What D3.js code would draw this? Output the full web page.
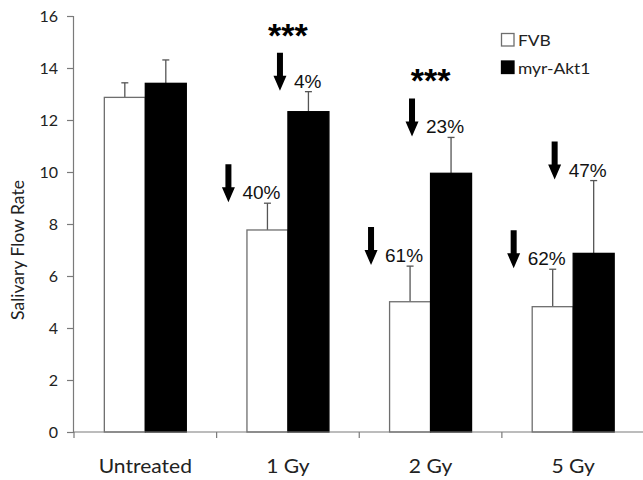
<!DOCTYPE html>
<html>
<head>
<meta charset="utf-8">
<script src="https://cdn.jsdelivr.net/npm/d3@7"></script>
<style>
  html, body { margin: 0; padding: 0; background: #fff; }
  svg { display: block; }
</style>
</head>
<body>
<svg id="chart" width="643" height="480"></svg>
<script>
const categories = ["Untreated", "1 Gy", "2 Gy", "5 Gy"];
const seriesNames = ["FVB", "myr-Akt1"];
const fvbValues = [12.87, 7.77, 5.01, 4.82];
const fvbErrors = [0.56, 1.03, 1.37, 1.44];
const aktValues = [13.41, 12.32, 9.95, 6.87];
const aktErrors = [0.90, 0.77, 1.38, 2.80];
const fvbDrops = [null, "40%", "61%", "62%"];
const aktDrops = [null, "4%", "23%", "47%"];
const significance = [null, "***", "***", null];
const yTicks = [0, 2, 4, 6, 8, 10, 12, 14, 16];
const yTitle = "Salivary Flow Rate";

const svg = d3.select("#chart");
const axisColor = "#7a7a7a";
const textColor = "#222";
const labelFont = "Lato, 'Open Sans', sans-serif";
const annFont = "'Liberation Sans', Arial, sans-serif";

const x0 = d3.scaleBand().domain(categories).range([74, 644.5]);
const x1 = d3.scaleBand().domain(seriesNames).range([0, x0.bandwidth()])
  .paddingInner(0).paddingOuter(0.74);
const y = d3.scaleLinear().domain([0, 16]).range([432, 16]);

const series = [
  { name: "FVB", values: fvbValues, errors: fvbErrors, drops: fvbDrops, fill: "#fff", stroke: "#6e6e6e" },
  { name: "myr-Akt1", values: aktValues, errors: aktErrors, drops: aktDrops, fill: "#000", stroke: "#000" }
];

// Y axis
const yAxis = svg.append("g").attr("transform", "translate(73,0)")
  .call(d3.axisLeft(y).tickValues(yTicks).tickSize(6).tickPadding(9).tickFormat(d3.format("d")));
yAxis.select(".domain").attr("stroke", axisColor).attr("stroke-width", 1.2);
yAxis.selectAll(".tick line").attr("stroke", axisColor).attr("stroke-width", 1.2);
yAxis.selectAll(".tick text").attr("fill", textColor)
  .style("font-family", labelFont).style("font-size", "16px");

// Bars
const rows = [];
categories.forEach((c, i) => {
  series.forEach(s => rows.push({ cat: c, i, s, v: s.values[i], e: s.errors[i], drop: s.drops[i] }));
});

const bx = d => x0(d.cat) + x1(d.s.name);
const bw = x1.bandwidth();

// error bars (drawn first, behind bars)
const eg = svg.append("g");
eg.selectAll("line.err").data(rows).join("line")
  .attr("x1", d => bx(d) + bw / 2).attr("x2", d => bx(d) + bw / 2)
  .attr("y1", d => y(d.v)).attr("y2", d => y(d.v + d.e))
  .attr("stroke", "#555").attr("stroke-width", 1.3);
eg.selectAll("line.cap").data(rows).join("line")
  .attr("x1", d => bx(d) + bw / 2 - 3.5).attr("x2", d => bx(d) + bw / 2 + 3.5)
  .attr("y1", d => y(d.v + d.e)).attr("y2", d => y(d.v + d.e))
  .attr("stroke", "#555").attr("stroke-width", 1.3);

svg.append("g").selectAll("rect").data(rows).join("rect")
  .attr("x", d => bx(d)).attr("width", bw)
  .attr("y", d => y(d.v)).attr("height", d => y(0) - y(d.v))
  .attr("fill", d => d.s.fill).attr("stroke", d => d.s.stroke).attr("stroke-width", 1.3);

// X axis
const xAxis = svg.append("g").attr("transform", "translate(0,432)");
xAxis.append("line").attr("x1", 73).attr("x2", 643).attr("y1", 0).attr("y2", 0)
  .attr("stroke", axisColor).attr("stroke-width", 1.2);
const xTickPos = categories.map(c => x0(c));
xAxis.selectAll("line.tk").data(xTickPos).join("line")
  .attr("x1", d => d).attr("x2", d => d).attr("y1", 0).attr("y2", 6)
  .attr("stroke", axisColor).attr("stroke-width", 1.2);
xAxis.selectAll("text").data(categories).join("text")
  .attr("transform", d => `translate(${x0(d) + x0.bandwidth() / 2},41) scale(1.08,1)`)
  .attr("text-anchor", "middle").attr("fill", textColor)
  .style("font-family", labelFont).style("font-size", "19.5px")
  .text(d => d);

// Y title
svg.append("text")
  .attr("transform", "translate(24,250) rotate(-90)")
  .attr("text-anchor", "middle").attr("fill", textColor)
  .style("font-family", labelFont).style("font-size", "17.5px")
  .text(yTitle);

// Drop annotations (arrow + percent)
const ann = svg.append("g");
rows.filter(d => d.drop).forEach(d => {
  const cx = bx(d) + bw / 2;
  const capY = y(d.v + d.e);
  const t = ann.append("text")
    .attr("x", cx + 13).attr("y", capY - 4)
    .attr("text-anchor", "end").attr("fill", "#111")
    .style("font-family", annFont).style("font-size", "19px")
    .text(d.drop);
  const bb = t.node().getBBox();
  const ax = bb.x - 14;
  const bottom = capY - 1;
  const top = bottom - 38;
  const headH = 15, headW = 6.5, shaftW = 3;
  ann.append("path")
    .attr("d", `M${ax - shaftW},${top} L${ax + shaftW},${top} L${ax + shaftW},${bottom - headH} L${ax + headW},${bottom - headH} L${ax},${bottom} L${ax - headW},${bottom - headH} L${ax - shaftW},${bottom - headH} Z`)
    .attr("fill", "#000");
});

// Significance stars
categories.forEach((c, i) => {
  if (!significance[i]) return;
  const capY = y(aktValues[i] + aktErrors[i]);
  svg.append("text")
    .attr("x", x0(c) + x0.bandwidth() / 2).attr("y", capY - 45)
    .attr("text-anchor", "middle").attr("fill", "#000")
    .style("font-family", annFont).style("font-size", "34px").style("font-weight", "bold")
    .text(significance[i]);
});

// Legend
const lg = svg.append("g").attr("transform", "translate(501,33)");
series.forEach((s, k) => {
  const g = lg.append("g").attr("transform", `translate(0,${k * 27.5})`);
  g.append("rect").attr("x", 0.5).attr("y", 0.5).attr("width", 12.5).attr("height", 12.5)
    .attr("fill", s.fill).attr("stroke", s.name === "FVB" ? "#6e6e6e" : "#000").attr("stroke-width", 1.3);
  g.append("text").attr("transform", "translate(17,13) scale(1.2,1)").attr("fill", textColor)
    .style("font-family", labelFont).style("font-size", "14.5px")
    .text(s.name);
});
</script>
</body>
</html>
